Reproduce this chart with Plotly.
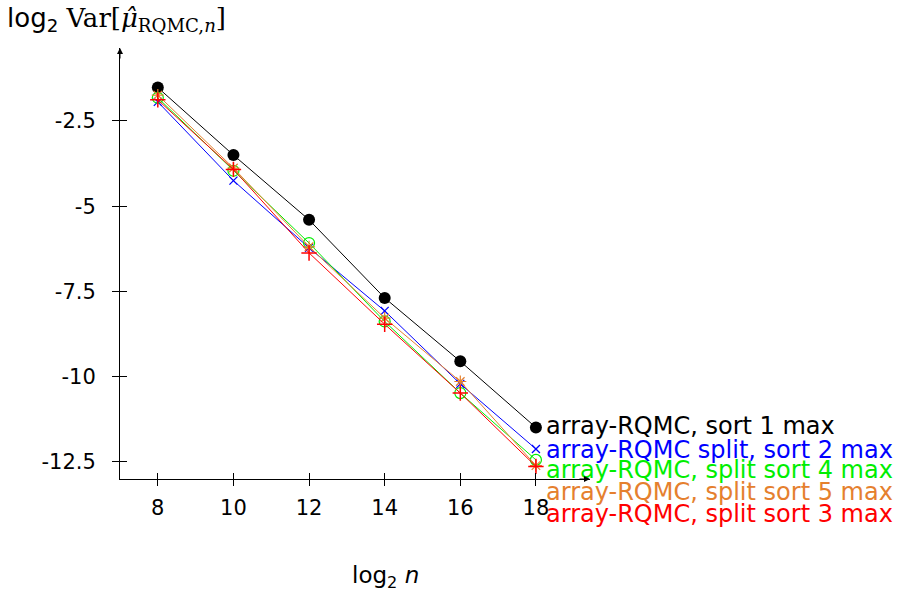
import plotly.graph_objects as go

# log2 of sample size
log2_n = [8, 10, 12, 14, 16, 18]

# log2 of the RQMC variance for each method
var_sort1 = [-1.52, -3.50, -5.40, -7.69, -9.55, -11.49]
var_split_sort2 = [-1.94, -4.25, -6.22, -8.07, -10.21, -12.12]
var_split_sort4 = [-1.82, -3.96, -6.08, -8.38, -10.48, -12.44]
var_split_sort5 = [-1.74, -3.88, -6.19, -8.28, -10.14, -12.61]
var_split_sort3 = [-1.88, -3.92, -6.37, -8.46, -10.48, -12.63]

series_names = [
    "array-RQMC, sort 1 max",
    "array-RQMC split, sort 2 max",
    "array-RQMC, split sort 4 max",
    "array-RQMC, split sort 5 max",
    "array-RQMC, split sort 3 max",
]

y_ticks = [-2.5, -5, -7.5, -10, -12.5]
x_ticks = [8, 10, 12, 14, 16, 18]

FONT = "DejaVu Sans"
ORANGE = "#e5802e"

styles = [
    dict(color="black", symbol="circle", size=12, line_w=0),
    dict(color="#0000ff", symbol="x-thin-open", size=8, line_w=1.3),
    dict(color="#00ee00", symbol="circle-open", size=11, line_w=1.2),
    dict(color=ORANGE, symbol="asterisk-open", size=10, line_w=1.2),
    dict(color="#ff0000", symbol="cross-thin-open", size=11, line_w=1.5),
]
values = [var_sort1, var_split_sort2, var_split_sort4, var_split_sort5, var_split_sort3]
# vertical offsets (px) of the end-of-line labels
label_shift = [2, -1, -10, -26, -48]

fig = go.Figure()
for name, vals, st in zip(series_names, values, styles):
    fig.add_trace(go.Scatter(
        x=log2_n, y=vals, mode="lines+markers", name=name,
        line=dict(color=st["color"], width=1),
        marker=dict(color=st["color"], symbol=st["symbol"], size=st["size"],
                    line=dict(color=st["color"], width=st["line_w"])),
        showlegend=False,
    ))

annotations = []
for name, vals, st, dy in zip(series_names, values, styles, label_shift):
    annotations.append(dict(
        x=log2_n[-1], y=vals[-1], xref="x", yref="y", text=name,
        showarrow=False, xanchor="left", yanchor="middle",
        xshift=8, yshift=dy,
        font=dict(family=FONT, size=24, color=st["color"]),
    ))

# axis titles
annotations.append(dict(
    xref="paper", yref="paper", x=-0.245, y=1.066, xanchor="left", yanchor="middle",
    text="log<sub>2</sub> <span style='font-family:DejaVu Serif'>Var[<i>μ̂</i><sub>RQMC,<i>n</i></sub>]</span>",
    showarrow=False, font=dict(family=FONT, size=26, color="black"),
))
annotations.append(dict(
    xref="paper", yref="paper", x=0.565, y=-0.228, xanchor="center", yanchor="middle",
    text="log<sub>2</sub> <i>n</i>",
    showarrow=False, font=dict(family=FONT, size=23, color="black"),
))
# arrow heads at the axis ends
annotations.append(dict(
    xref="paper", yref="paper", x=0, y=1, ax=0, ay=12, axref="pixel", ayref="pixel",
    showarrow=True, arrowhead=2, arrowsize=1.2, arrowwidth=1, arrowcolor="black", text="",
))
annotations.append(dict(
    xref="paper", yref="paper", x=1, y=0, ax=-12, ay=0, axref="pixel", ayref="pixel",
    showarrow=True, arrowhead=2, arrowsize=1.2, arrowwidth=1, arrowcolor="black", text="",
))

axis_common = dict(showgrid=False, zeroline=False, showline=True, linecolor="black",
                   linewidth=1, tickcolor="black", tickwidth=1,
                   tickfont=dict(family=FONT, size=21, color="black"))

fig.update_layout(
    width=911, height=592,
    margin=dict(l=120, r=321, t=48, b=113),
    paper_bgcolor="white", plot_bgcolor="white",
    font=dict(family=FONT, size=21, color="black"),
    xaxis=dict(range=[7, 19.43], tickvals=x_ticks, ticktext=[str(v) for v in x_ticks],
               ticks="outside", ticklen=6, ticklabelstandoff=4, **axis_common),
    yaxis=dict(range=[-13, -0.36], tickvals=y_ticks, ticktext=[str(v) for v in y_ticks],
               ticks="outside", ticklen=7, ticklabelstandoff=12, **axis_common),
    # inner halves of the tick marks
    xaxis2=dict(overlaying="x", matches="x", anchor="y", side="bottom",
                tickvals=x_ticks, ticks="inside", ticklen=6, showticklabels=False,
                showgrid=False, zeroline=False, showline=False, tickcolor="black"),
    yaxis2=dict(overlaying="y", matches="y", anchor="x", side="left",
                tickvals=y_ticks, ticks="inside", ticklen=7, showticklabels=False,
                showgrid=False, zeroline=False, showline=False, tickcolor="black"),
    annotations=annotations,
)
# invisible trace to activate the secondary tick axes
fig.add_trace(go.Scatter(x=[log2_n[0]], y=[var_sort1[0]], xaxis="x2", yaxis="y2",
                         mode="markers", marker=dict(opacity=0), showlegend=False,
                         hoverinfo="skip"))

fig.write_html("out.html")
